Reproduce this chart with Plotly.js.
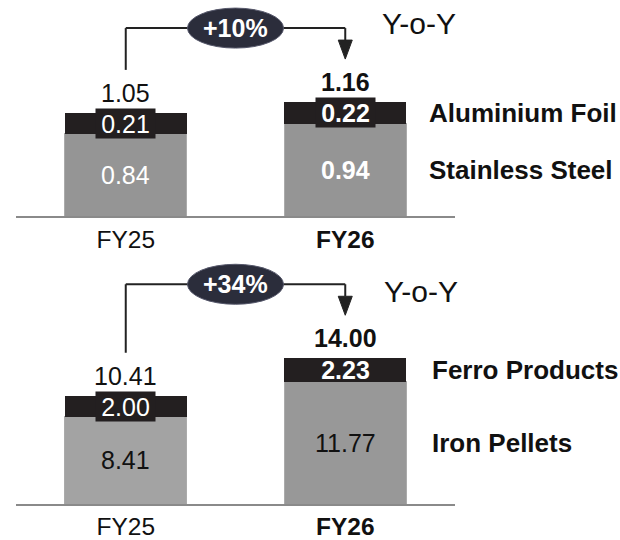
<!DOCTYPE html>
<html>
<head>
<meta charset="utf-8">
<script src="https://cdn.plot.ly/plotly-3.0.1.min.js"></script>
<style>html,body{margin:0;padding:0;background:#fff;}#chart{width:620px;height:540px;}</style>
</head>
<body>
<div id="chart"></div>
<script>
// ---------------- DATA ----------------
const categories = ['FY25', 'FY26'];

const topSegmentNames = ['Stainless Steel', 'Aluminium Foil'];
const stainlessSteel = [0.84, 0.94];
const aluminiumFoil = [0.21, 0.22];
const topTotals = [1.05, 1.16];
const topGrowth = '+10%';

const bottomSegmentNames = ['Iron Pellets', 'Ferro Products'];
const ironPellets = [8.41, 11.77];
const ferroProducts = [2.00, 2.23];
const bottomTotals = [10.41, 14.00];
const bottomGrowth = '+34%';

const growthLabel = 'Y-o-Y';

// ---------------- STYLE / GEOMETRY ----------------
const W = 620, H = 540;
const FONT = 'Liberation Sans, Arial, Helvetica, sans-serif';
const INK = '#111111';
const DARK = '#231f20';
const ELLIPSE = '#2b2d3b';
const X_LEFT = 16, X_RIGHT = 455;          // px extent of the baseline
const xPxPerUnit = (X_RIGHT - X_LEFT) / 2;  // range -0.5..1.5

const panels = [
  { base: 216, top: 0, ppu: 98.2, xa: 'x', ya: 'y', standoff: 1,
    lower: stainlessSteel, upper: aluminiumFoil, totals: topTotals,
    names: topSegmentNames, growth: topGrowth,
    gray: ['#959595', '#959595'], lowerInk: ['#ffffff', '#ffffff'],
    lowerBold: [false, true], upperBold: [false, true], upperBox: [true, true],
    nameX: 427, yoy: {x: 380, y: 24} },
  { base: 504.3, top: 250, ppu: 10.43, xa: 'x2', ya: 'y2', standoff: 0,
    lower: ironPellets, upper: ferroProducts, totals: bottomTotals,
    names: bottomSegmentNames, growth: bottomGrowth,
    gray: ['#a3a3a3', '#989898'], lowerInk: [INK, INK],
    lowerBold: [false, false], upperBold: [false, true], upperBox: [true, false],
    nameX: 430, yoy: {x: 382, y: 291.5} }
];

const xIdx = categories.map((c, i) => i);
const fmt = v => v.toFixed(2);
const b = (s, on) => on ? '<b>' + s + '</b>' : s;

const traces = [];
const shapes = [];
const annotations = [];
const layout = {
  width: W, height: H,
  margin: {l: 0, r: 0, t: 0, b: 0, pad: 0},
  paper_bgcolor: '#ffffff', plot_bgcolor: '#ffffff',
  barmode: 'stack', bargap: 0.445,
  showlegend: false,
  font: {family: FONT, color: INK, size: 24.5},
  shapes: shapes, annotations: annotations
};

panels.forEach((p, k) => {
  const sfx = k === 0 ? '' : '2';
  const range = (p.base - p.top) / p.ppu;
  layout['xaxis' + sfx] = {
    domain: [X_LEFT / W, X_RIGHT / W], range: [-0.5, 1.5], type: 'linear',
    anchor: 'y' + sfx, showgrid: false, zeroline: false,
    showline: true, linecolor: '#8a8a8a', linewidth: 1.5,
    ticks: '', tickvals: xIdx,
    ticktext: categories.map((c, i) => b(c, i === 1)),
    tickfont: {family: FONT, size: 24.5, color: INK},
    ticklabelstandoff: p.standoff, automargin: false, fixedrange: true
  };
  layout['yaxis' + sfx] = {
    domain: [(H - p.base) / H, (H - p.top) / H], range: [0, range],
    anchor: 'x' + sfx, showgrid: false, zeroline: false, showline: false,
    showticklabels: false, ticks: '', automargin: false, fixedrange: true
  };

  traces.push({
    type: 'bar', x: xIdx, y: p.lower, name: p.names[0], xaxis: p.xa, yaxis: p.ya,
    marker: {color: p.gray, line: {color: '#ababab', width: 1}},
    hoverinfo: 'skip'
  });
  traces.push({
    type: 'bar', x: xIdx, y: p.upper, name: p.names[1], xaxis: p.xa, yaxis: p.ya,
    marker: {color: DARK, line: {color: DARK, width: 0}},
    hoverinfo: 'skip'
  });

  // value labels
  xIdx.forEach(i => {
    annotations.push({
      xref: p.xa, yref: p.ya, x: i, y: p.totals[i], yanchor: 'middle', yshift: 20,
      text: b(fmt(p.totals[i]), i === 1), showarrow: false,
      font: {family: FONT, size: 25, color: INK}
    });
    annotations.push({
      xref: p.xa, yref: p.ya, x: i, y: p.lower[i] + p.upper[i] / 2, yanchor: 'middle',
      text: b(fmt(p.upper[i]), p.upperBold[i]), showarrow: false,
      font: {family: FONT, size: 25, color: '#ffffff'},
      bgcolor: p.upperBox[i] ? DARK : 'rgba(0,0,0,0)',
      width: 59, height: 29, borderpad: 0
    });
    annotations.push({
      xref: p.xa, yref: p.ya, x: i, y: p.lower[i] / 2, yanchor: 'middle',
      text: b(fmt(p.lower[i]), p.lowerBold[i]), showarrow: false,
      font: {family: FONT, size: 25, color: p.lowerInk[i]}
    });
  });

  // segment names, aligned with the FY26 segments
  const last = xIdx.length - 1;
  annotations.push({
    xref: 'paper', yref: p.ya, x: p.nameX / W, xanchor: 'left',
    y: p.lower[last] + p.upper[last] / 2, yanchor: 'middle',
    text: '<b>' + p.names[1] + '</b>', showarrow: false,
    font: {family: FONT, size: 26, color: INK}
  });
  annotations.push({
    xref: 'paper', yref: p.ya, x: p.nameX / W, xanchor: 'left',
    y: p.lower[last] / 2, yanchor: 'middle',
    text: '<b>' + p.names[0] + '</b>', showarrow: false,
    font: {family: FONT, size: 26, color: INK}
  });

  // growth bracket
  const tMax = Math.max(...p.totals);
  const yBracket = tMax + 74 / p.ppu;
  const yLeftFoot = p.totals[0] + 43 / p.ppu;
  const yArrowBase = p.totals[last] + 62 / p.ppu;
  const yArrowTip = p.totals[last] + 43 / p.ppu;
  const dx = 7 / xPxPerUnit;
  const ln = {color: '#222222', width: 2};
  shapes.push({type: 'line', xref: p.xa, yref: p.ya, x0: 0, x1: 0, y0: yLeftFoot, y1: yBracket, line: ln});
  shapes.push({type: 'line', xref: p.xa, yref: p.ya, x0: 0, x1: last, y0: yBracket, y1: yBracket, line: ln});
  shapes.push({type: 'line', xref: p.xa, yref: p.ya, x0: last, x1: last, y0: yBracket, y1: yArrowBase, line: ln});
  shapes.push({type: 'path', xref: p.xa, yref: p.ya,
    path: 'M ' + (last - dx) + ',' + yArrowBase + ' L ' + (last + dx) + ',' + yArrowBase +
          ' L ' + last + ',' + yArrowTip + ' Z',
    fillcolor: '#222222', line: {color: '#222222', width: 1}});
  shapes.push({type: 'circle', xref: p.xa, yref: p.ya,
    xsizemode: 'pixel', xanchor: last / 2, x0: -48, x1: 48,
    ysizemode: 'pixel', yanchor: yBracket, y0: -20, y1: 20,
    fillcolor: ELLIPSE, line: {color: '#55576a', width: 1}});
  annotations.push({
    xref: p.xa, yref: p.ya, x: last / 2, y: yBracket, yanchor: 'middle',
    text: '<b>' + p.growth + '</b>', showarrow: false,
    font: {family: FONT, size: 25, color: '#ffffff'}
  });
  annotations.push({
    xref: 'paper', yref: 'paper', x: p.yoy.x / W, xanchor: 'left',
    y: 1 - p.yoy.y / H, yanchor: 'middle', text: growthLabel, showarrow: false,
    font: {family: FONT, size: 30, color: INK}
  });
});

Plotly.newPlot('chart', traces, layout, {staticPlot: true, displayModeBar: false});
</script>
</body>
</html>
